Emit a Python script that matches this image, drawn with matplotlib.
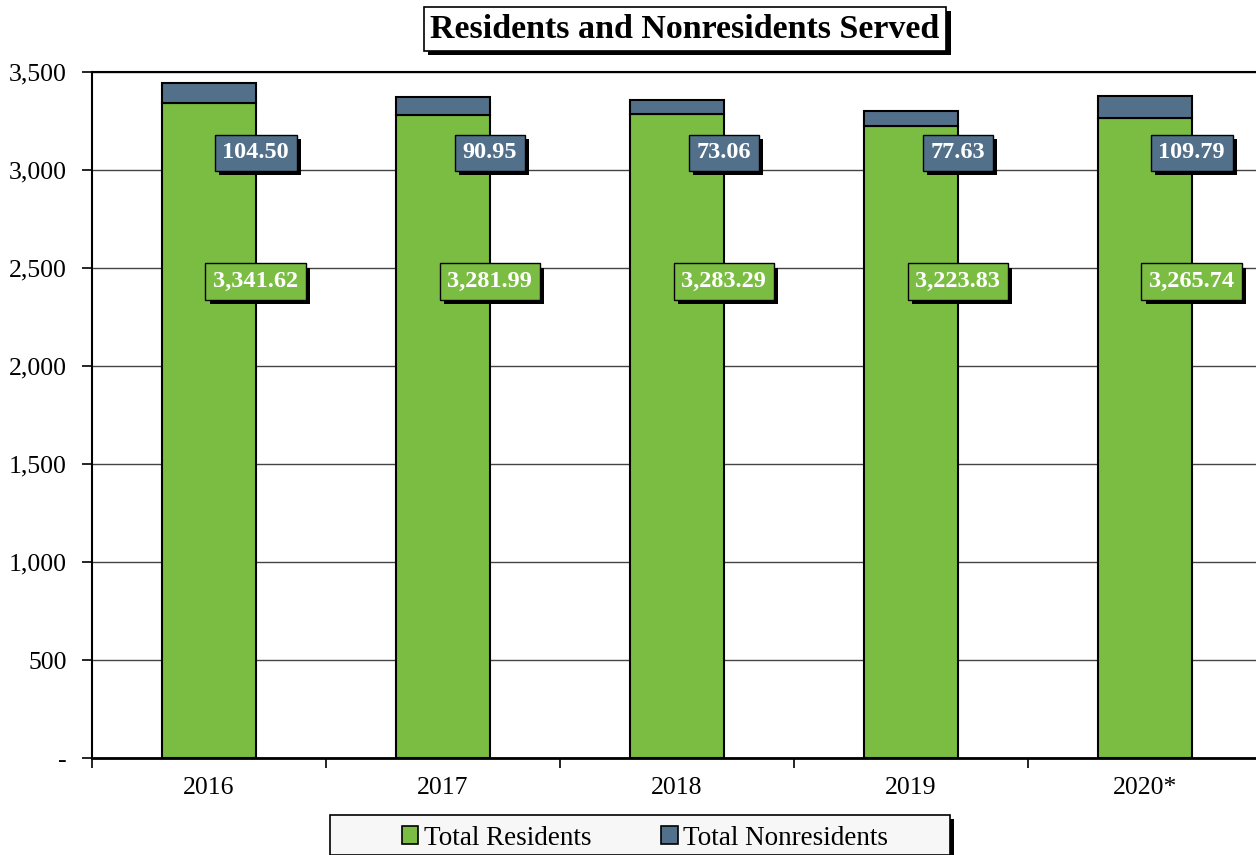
import matplotlib
matplotlib.use("Agg")
import matplotlib.pyplot as plt
import matplotlib.patheffects as pe
from matplotlib.patches import Rectangle
from matplotlib.ticker import FuncFormatter, FixedLocator
import numpy as np

years = ["2016", "2017", "2018", "2019", "2020*"]
residents = [3341.62, 3281.99, 3283.29, 3223.83, 3265.74]
nonresidents = [104.50, 90.95, 73.06, 77.63, 109.79]
res_labels = ["3,341.62", "3,281.99", "3,283.29", "3,223.83", "3,265.74"]
nonres_labels = ["104.50", "90.95", "73.06", "77.63", "109.79"]

green = "#7BBD42"
slate = "#527089"

plt.rcParams["font.family"] = ["Liberation Serif", "DejaVu Serif"]

fig = plt.figure(figsize=(12.56, 8.55), dpi=100)
W, H = 1256, 855
ax = fig.add_axes([92 / W, 1 - 758 / H, 1170 / W, (758 - 72) / H])

x = np.arange(len(years))
ax.bar(x, residents, width=0.4, color=green, edgecolor="black", linewidth=1.5, zorder=3)
ax.bar(x, nonresidents, bottom=residents, width=0.4, color=slate,
       edgecolor="black", linewidth=1.5, zorder=3)

ax.set_xlim(-0.5, len(years) - 0.5)
ax.set_ylim(0, 3500)
ax.set_yticks(np.arange(0, 3501, 500))
ax.yaxis.set_major_formatter(FuncFormatter(lambda v, p: "-" if v == 0 else f"{v:,.0f}"))
ax.grid(axis="y", color="#444444", linewidth=1.0, zorder=0)

ax.set_xticks(x)
ax.set_xticklabels(years)
ax.xaxis.set_minor_locator(FixedLocator(np.arange(-0.5, len(years), 1.0)))
ax.tick_params(axis="x", which="major", length=0, pad=14, labelsize=18.5)
ax.tick_params(axis="x", which="minor", length=7, width=1.2, direction="out")
ax.tick_params(axis="y", length=7, width=1.2, direction="out", pad=11, labelsize=18.5)

for s in ["top", "right"]:
    ax.spines[s].set_visible(False)
ax.spines["left"].set_linewidth(1.5)
ax.spines["bottom"].set_linewidth(2.0)
ax.axhline(3500, color="black", linewidth=1.5, zorder=4, clip_on=False)

shadow = [pe.withSimplePatchShadow(offset=(3, -3), shadow_rgbFace="black", alpha=1.0)]

for i in range(len(years)):
    for yv, txt, col in [(3087, nonres_labels[i], slate), (2430, res_labels[i], green)]:
        t = ax.text(x[i] + 0.2, yv, txt, ha="center", va="center", fontsize=17.5,
                    fontweight="bold", color="white", zorder=6,
                    bbox=dict(boxstyle="square,pad=0.32", facecolor=col,
                              edgecolor="black", linewidth=1.0))
        t.get_bbox_patch().set_path_effects(shadow)

title = fig.text(685 / W, 1 - 29 / H, "Residents and Nonresidents Served",
                 ha="center", va="center", fontsize=24.5, fontweight="bold",
                 bbox=dict(boxstyle="square,pad=0.2", facecolor="white",
                           edgecolor="black", linewidth=1.2))
title.get_bbox_patch().set_path_effects(shadow)

leg_box = Rectangle((330 / W, 0), 620 / W, 40 / H, transform=fig.transFigure,
                    facecolor="#F7F7F7", edgecolor="black", linewidth=1.2, zorder=1)
leg_box.set_path_effects(shadow)
fig.patches.append(leg_box)

handles = [Rectangle((0, 0), 1, 1, facecolor=green, edgecolor="black", linewidth=1.2),
           Rectangle((0, 0), 1, 1, facecolor=slate, edgecolor="black", linewidth=1.2)]
fig.legend(handles, ["Total Residents", "Total Nonresidents"], loc="center",
           bbox_to_anchor=(645 / W, 1 - 838 / H), ncol=2, frameon=False,
           fontsize=19.5, handlelength=0.6, handleheight=0.6, handletextpad=0.2,
           columnspacing=2.6)

fig.savefig("out.png", dpi=100)
